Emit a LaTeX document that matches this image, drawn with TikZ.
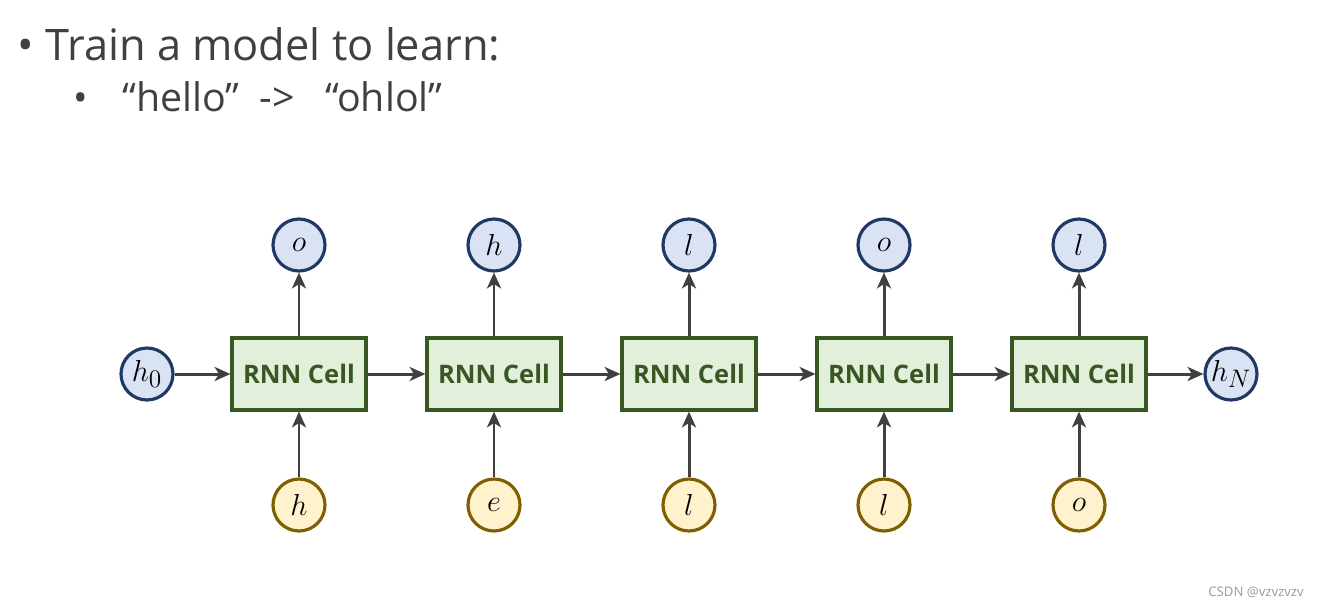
\documentclass[tikz,border=0pt]{standalone}
\usepackage{fontspec}
\setmainfont{Open Sans}
\usepackage{tikz}
\usepackage{xcolor}
\usetikzlibrary{positioning,arrows.meta,calc}
\definecolor{txtgray}{RGB}{64,64,64}
\definecolor{arrgray}{RGB}{64,64,64}
\definecolor{bluefill}{RGB}{218,227,243}
\definecolor{blueline}{RGB}{31,56,100}
\definecolor{yelfill}{RGB}{255,242,204}
\definecolor{yelline}{RGB}{127,96,0}
\definecolor{grnfill}{RGB}{226,239,218}
\definecolor{grnline}{RGB}{56,87,35}

\tikzset{
  cellbox/.style={draw=grnline, fill=grnfill, line width=1.8pt, minimum width=2.68cm,
    minimum height=1.44cm, inner sep=0pt, text=grnline, font=\bfseries\fontsize{14.5}{16}\selectfont},
  outnode/.style={circle, draw=blueline, fill=bluefill, line width=1.8pt, minimum size=1.04cm,
    inner sep=0pt, font=\fontsize{19}{21}\selectfont},
  innode/.style={circle, draw=yelline, fill=yelfill, line width=1.8pt, minimum size=1.04cm,
    inner sep=0pt, font=\fontsize{19}{21}\selectfont},
  link/.style={draw=arrgray, line width=1.7pt, -{Stealth[length=9pt,width=8pt,inset=2.5pt]}}
}

\begin{document}
\begin{tikzpicture}[x=0.02cm, y=-0.02cm]
\useasboundingbox (0,0) rectangle (1319,606);

% Title lines
\node[anchor=base, text=txtgray, font=\fontsize{25}{28}\selectfont] (bul1) at (26,60) {•};
\node[anchor=base west, inner sep=0pt, text=txtgray, font=\fontsize{24.7}{28}\selectfont] (title) at (45,60) {Train a model to learn:};
\node[anchor=base, text=txtgray, font=\fontsize{22}{24}\selectfont] (bul2) at (81,111) {•};
\node[anchor=base west, inner sep=0pt, text=txtgray, font=\fontsize{22.4}{24}\selectfont] (task) at (122,111) {“hello”\ \ ->\ \ \ “ohlol”};

% Cells, outputs and inputs
\foreach \i/\x/\o/\c in {1/299/o/h, 2/494/h/e, 3/689/l/l, 4/884/o/l, 5/1079/l/o} {
    \node[cellbox] (cell\i) at (\x,374) {RNN Cell};
    \node[outnode] (out\i) at (\x,245) {$\o$};
    \node[innode] (in\i) at (\x,505) {$\c$};
    \draw[link] (cell\i) -- (out\i);
    \draw[link] (in\i) -- (cell\i);
}

% Hidden states
\node[outnode] (h0) at (147,374) {$h_0$};
\node[outnode] (hN) at (1231,374) {$h_N$};
\draw[link] (h0) -- (cell1);
\foreach \i [evaluate=\i as \j using int(\i+1)] in {1,...,4} {
    \draw[link] (cell\i) -- (cell\j);
}
\draw[link] (cell5) -- (hN);

% Watermark
\node[anchor=base east, inner sep=0pt, text=gray!80, font=\fontsize{7.5}{9}\selectfont] (mark) at (1304,596) {CSDN @vzvzvzv};
\end{tikzpicture}
\end{document}
